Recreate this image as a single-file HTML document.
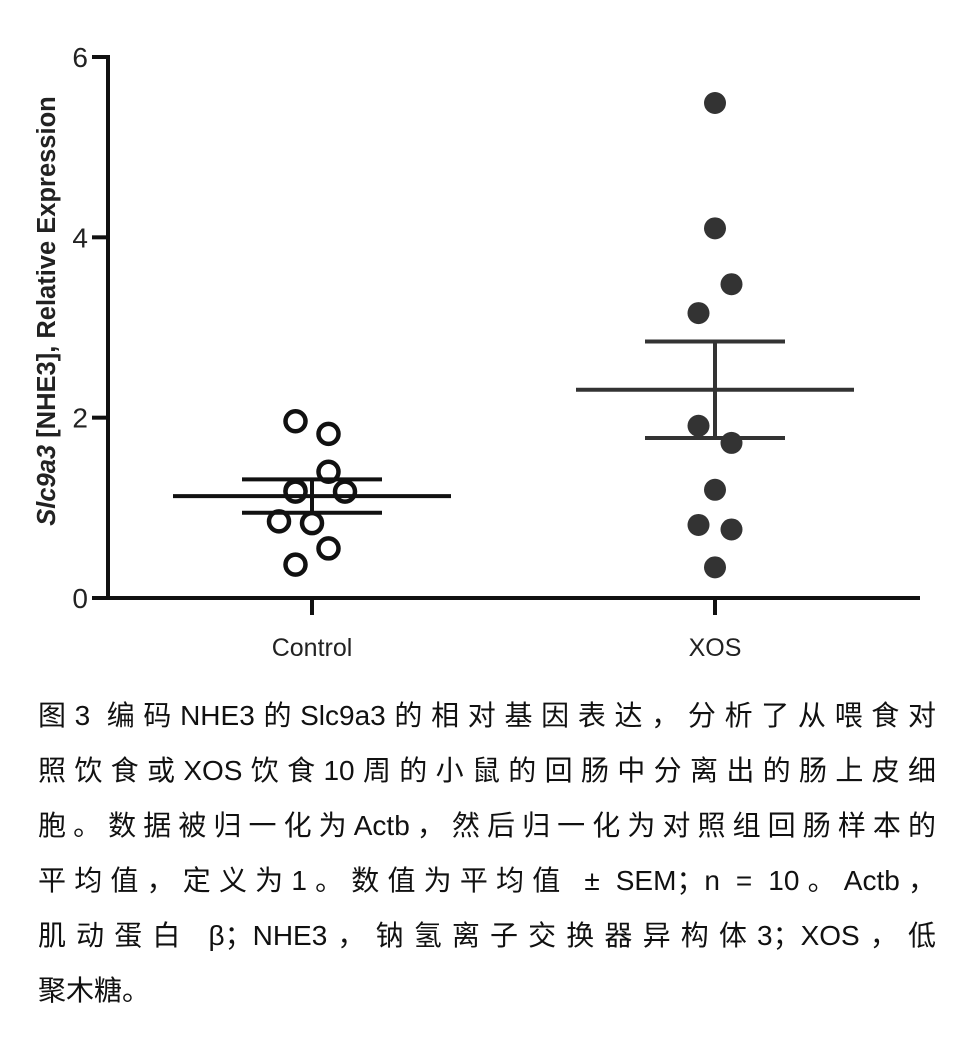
<!DOCTYPE html>
<html><head><meta charset="utf-8"><style>
body{margin:0;background:#fff;width:959px;height:1054px;overflow:hidden;font-family:"Liberation Sans","Noto Sans CJK SC",sans-serif}
#cap{position:absolute;left:38px;top:688px;width:898px;font-size:28px;line-height:55px;color:#111}
#cap div{text-align:justify;text-align-last:justify;white-space:nowrap}
#cap div.last{text-align-last:left}
</style></head><body>
<svg id="chart" width="959" height="680" style="position:absolute;left:0;top:0"></svg>
<div id="cap">
<div>图3 编码NHE3的Slc9a3的相对基因表达，分析了从喂食对</div>
<div>照饮食或XOS饮食10周的小鼠的回肠中分离出的肠上皮细</div>
<div>胞。数据被归一化为Actb，然后归一化为对照组回肠样本的</div>
<div>平均值，定义为1。数值为平均值 ± SEM；n = 10。Actb，</div>
<div>肌动蛋白 β；NHE3，钠氢离子交换器异构体3；XOS，低</div>
<div class="last">聚木糖。</div>
</div>
<script>
const categories=["Control","XOS"];
const controlValues=[1.96,1.82,1.40,1.19,1.18,0.85,0.83,0.55,0.37,1.18];
const controlOffsets=[-1,1,1,-1,2,-2,0,1,-1,-1];
const xosValues=[5.49,4.10,3.48,3.16,1.91,1.72,1.20,0.81,0.76,0.34];
const xosOffsets=[0,0,1,-1,-1,1,0,-1,1,0];
const means=[1.13,2.31];
const sems=[0.185,0.535];
const yTicks=[0,2,4,6];
const ns="http://www.w3.org/2000/svg",svg=document.getElementById("chart");
const y0=598,y6=57,ax=108,axEnd=920;
const Y=v=>y0-(y0-y6)*v/6;
const X=i=>[312,715][i];
function el(t,a,txt){const e=document.createElementNS(ns,t);for(const k in a)e.setAttribute(k,a[k]);if(txt!=null)e.textContent=txt;svg.appendChild(e);return e;}
let e=el("line",{x1:ax,y1:y0,x2:axEnd,y2:y0,stroke:"#111","stroke-width":4});

e=el("line",{x1:ax,y1:y0+2,x2:ax,y2:y6-2,stroke:"#111","stroke-width":4});

yTicks.forEach(t=>{
 e=el("line",{x1:ax-16,y1:Y(t),x2:ax,y2:Y(t),stroke:"#111","stroke-width":4});
 
 e=el("text",{x:ax-20,y:Y(t)+10,"text-anchor":"end","font-size":28,fill:"#222"},t);
 
});
categories.forEach((c,i)=>{
 e=el("line",{x1:X(i),y1:y0,x2:X(i),y2:y0+17,stroke:"#111","stroke-width":4});
 
 e=el("text",{x:X(i),y:656,"text-anchor":"middle","font-size":25,fill:"#222"},c);
 
});
e=el("text",{transform:"translate(55,311) rotate(-90)","text-anchor":"middle","font-size":25.5,"font-weight":"bold",fill:"#222"});
e.innerHTML='<tspan font-style="italic">Slc9a3</tspan> [NHE3], Relative Expression';

function pts(vals,offs,i,filled){vals.forEach((v,k)=>{
 e=el("circle",{cx:X(i)+offs[k]*16.5,cy:Y(v),r:filled?11:10,fill:filled?"#333":"#fff",stroke:filled?"#333":"#111","stroke-width":filled?0:4.5});
 
});}
pts(controlValues,controlOffsets,0,false);
pts(xosValues,xosOffsets,1,true);
means.forEach((m,i)=>{
 const col=i?"#333":"#111";
 e=el("line",{x1:X(i)-139,y1:Y(m),x2:X(i)+139,y2:Y(m),stroke:col,"stroke-width":4});
 
 e=el("line",{x1:X(i),y1:Y(m+sems[i]),x2:X(i),y2:Y(m-sems[i]),stroke:col,"stroke-width":4});
 
 [m+sems[i],m-sems[i]].forEach(v=>{
  e=el("line",{x1:X(i)-70,y1:Y(v),x2:X(i)+70,y2:Y(v),stroke:col,"stroke-width":4});
  
 });
});
</script>
</body></html>
